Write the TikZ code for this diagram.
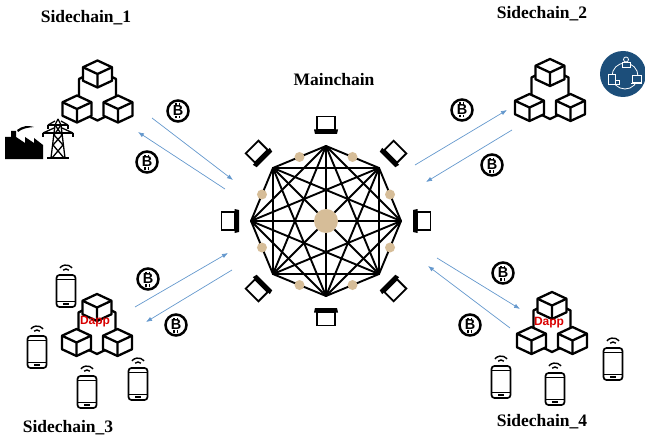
\documentclass[tikz,border=0pt]{standalone}
\usepackage{fontspec}
\setmainfont{Liberation Serif}
\newfontfamily\appfont{Liberation Sans}
\usepackage{tikz}
\usetikzlibrary{arrows.meta,calc}

\definecolor{linkblue}{RGB}{100,152,205}
\definecolor{peertan}{RGB}{214,189,152}
\definecolor{syncblue}{RGB}{28,78,122}

\begin{document}
\begin{tikzpicture}[
  x=1pt, y=1pt, >={Latex[length=6pt,width=4.5pt]},
  chainlabel/.style={font=\fontsize{17.5}{20}\selectfont\bfseries},
  link/.style={->, draw=linkblue, line width=0.7pt},
  mesh/.style={line width=1.9pt, line cap=round},
  peer/.style={circle, fill=peertan, minimum size=10pt, inner sep=0pt},
  core/.style={circle, fill=peertan, minimum size=24pt, inner sep=0pt},
  coinbody/.style={circle, draw=black, line width=2.5pt, minimum size=21pt, inner sep=0pt,
    font=\appfont\fontsize{14.5}{14.5}\selectfont\bfseries},
  dapp/.style={text=red!85!black, font=\appfont\fontsize{12}{12}\selectfont\bfseries},
  cube/.pic={
    \draw[line width=2.3pt, line join=round, fill=white] (0,13.5) -- (14.5,6.75) -- (14.5,-6.75)
      -- (0,-13.5) -- (-14.5,-6.75) -- (-14.5,6.75) -- cycle;
    \draw[line width=2.3pt, line join=round] (-14.5,6.75) -- (0,0) -- (14.5,6.75) (0,0) -- (0,-13.5);
  },
  chain/.pic={
    \draw[line width=2.3pt, line join=round] (-18.5,12.5) -- (-18.5,-20) -- (0,-29) -- (18.5,-20)
      -- (18.5,12.5) -- (0,22) -- cycle;
    \pic at (0,17.5) {cube};
    \pic at (-20.5,-17.5) {cube};
    \pic at (20.5,-17.5) {cube};
  },
  phone/.pic={
    \draw[line width=1.7pt, rounded corners=3pt, fill=white] (-9.5,-16) rectangle (9.5,16);
    \draw[line width=1.2pt] (-9.5,11.5) -- (9.5,11.5) (-9.5,-10.5) -- (9.5,-10.5);
    \draw[line width=1.8pt] (-3,-13.3) -- (3,-13.3);
    \draw[line width=1.4pt] (0,18) ++(45:4) arc[start angle=45, end angle=135, radius=4];
    \draw[line width=1.4pt] (0,18) ++(40:8) arc[start angle=40, end angle=140, radius=8];
  },
  laptop/.pic={
    \draw[line width=1.8pt, fill=white] (-9,-3.5) rectangle (9,9.5);
    \fill (-12,-3.5) -- (12,-3.5) -- (11,-8) -- (-11,-8) -- cycle;
  },
  coin/.pic={
    \node[coinbody] (-b) at (0,0) {B};
    \draw[line width=1.3pt] (-2,5) -- (-2,7.5) (1.3,5) -- (1.3,7.5)
      (-2,-5) -- (-2,-7.5) (1.3,-5) -- (1.3,-7.5);
  },
]
\useasboundingbox (0,0) rectangle (645,-441);

% mainchain: complete mesh of eight peers
\coordinate (hub) at (326,-221);
\foreach \k in {0,...,7}
  \coordinate (m\k) at ($(hub)+(\k*45:75)$);
\foreach \i in {0,...,6} {
  \pgfmathtruncatemacro\nxt{\i+1}
  \foreach \j in {\nxt,...,7}
    \draw[mesh] (m\i) -- (m\j);
}
\foreach \k in {0,...,7}
  \node[peer] (p\k) at ($(hub)+(\k*45+22.5:69.3)$) {};
\node[core] (centre) at (hub) {};
\foreach \k in {0,...,7}
  \pic[rotate=\k*45-90] at ($(hub)+(\k*45:95)$) {laptop};

\node[chainlabel] (main) at (334,-80) {Mainchain};

% sidechains
\pic at (97.5,-91.5) {chain};
\pic at (550,-90) {chain};
\pic at (97,-325) {chain};
\pic at (552,-323) {chain};
\node[dapp] (dapp3) at (95,-322) {Dapp};
\node[dapp] (dapp4) at (549,-323) {Dapp};

\node[chainlabel] (side1) at (86,-18) {Sidechain\_1};
\node[chainlabel] (side2) at (542,-14) {Sidechain\_2};
\node[chainlabel] (side3) at (68,-428) {Sidechain\_3};
\node[chainlabel] (side4) at (542,-422) {Sidechain\_4};

% factory and pylon
\fill (5,-159) -- (5,-137) -- (11,-137) -- (11,-131) -- (16,-131) -- (16,-137) -- (25,-143)
  -- (25,-137) -- (34,-143) -- (34,-138) -- (43,-145) -- (43,-159) -- cycle;
\fill (17,-130) .. controls (22,-126) and (28,-125) .. (34,-127)
  .. controls (28,-127.5) and (22,-128.5) .. (18,-132) -- cycle;
\begin{scope}[line width=1.3pt]
  \draw (58,-119) -- (55,-125) -- (51,-158);
  \draw (58,-119) -- (61,-125) -- (65,-158);
  \draw (48,-125) -- (68,-125) (43,-133) -- (73,-133);
  \draw (48,-125) -- (55,-121) (68,-125) -- (61,-121);
  \draw (43,-133) -- (54,-128) (73,-133) -- (62,-128);
  \draw (48,-125) -- (48,-129) (68,-125) -- (68,-129) (43,-133) -- (43,-137) (73,-133) -- (73,-137);
  \draw (55,-125) -- (62,-135) -- (53,-145) -- (64,-158) (61,-125) -- (54,-135) -- (63,-145) -- (52,-158);
  \draw (47,-158) -- (69,-158);
\end{scope}

% sync badge
\node[circle, fill=syncblue, minimum size=46pt, inner sep=0pt] (sync) at (623,-74) {};
\begin{scope}[shift={(sync.center)}, draw=white, line width=0.8pt]
  \draw (2,-2) circle[radius=13];
  \filldraw[fill=syncblue] (-1,7) rectangle (7,11.5);
  \filldraw[fill=syncblue] (3,14.5) circle[radius=2.5];
  \filldraw[fill=syncblue] (-15,-10) rectangle (-8,0);
  \filldraw[fill=syncblue] (-8,-10) rectangle (-4,-6);
  \filldraw[fill=syncblue] (9,-8) rectangle (18,-1);
  \draw (8,-9.5) -- (19,-9.5);
\end{scope}

% phones
\foreach \pos in {(66,-291),(37,-352),(87,-392),(138,-384),(501,-382),(555,-389),(613,-364)}
  \pic at \pos {phone};

% coins
\pic (c1) at (178,-111) {coin};
\pic (c2) at (147,-162) {coin};
\pic (c3) at (462,-110) {coin};
\pic (c4) at (492,-165) {coin};
\pic (c5) at (148,-279) {coin};
\pic (c6) at (176,-325) {coin};
\pic (c7) at (503,-273) {coin};
\pic (c8) at (470,-325) {coin};

% transfers
\coordinate (s1out) at (152,-118);  \coordinate (s1in) at (233,-180);
\coordinate (s1back) at (225,-189); \coordinate (s1end) at (138,-132);
\coordinate (s2out) at (415,-165);  \coordinate (s2in) at (507,-110);
\coordinate (s2back) at (512,-130); \coordinate (s2end) at (426,-182);
\coordinate (s3out) at (135,-307);  \coordinate (s3in) at (228,-253);
\coordinate (s3back) at (232,-270); \coordinate (s3end) at (146,-322);
\coordinate (s4out) at (437,-258);  \coordinate (s4in) at (520,-309);
\coordinate (s4back) at (510,-328); \coordinate (s4end) at (428,-266);
\draw[link] (s1out) -- (s1in);
\draw[link] (s1back) -- (s1end);
\draw[link] (s2out) -- (s2in);
\draw[link] (s2back) -- (s2end);
\draw[link] (s3out) -- (s3in);
\draw[link] (s3back) -- (s3end);
\draw[link] (s4out) -- (s4in);
\draw[link] (s4back) -- (s4end);
\end{tikzpicture}
\end{document}
